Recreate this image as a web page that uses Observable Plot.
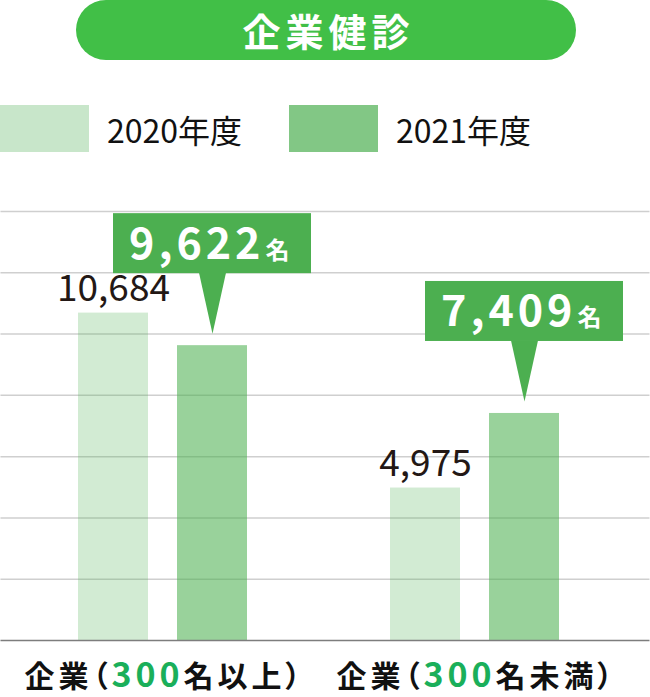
<!DOCTYPE html>
<html>
<head>
<meta charset="utf-8">
<script src="https://cdn.jsdelivr.net/npm/d3@7"></script>
<script src="https://cdn.jsdelivr.net/npm/@observablehq/plot@0.6"></script>
<style>
  body { margin: 0; background: #fff; font-family: "Noto Sans CJK JP", "Noto Sans", sans-serif; }
  #wrap { position: relative; width: 650px; height: 697px; overflow: hidden; }
  #title { position: absolute; left: 76px; top: 0; width: 500px; height: 60px; border-radius: 30px;
           background: #41bf47; color: #fff; font-weight: 700; font-size: 38px; line-height: 60px;
           text-align: center; letter-spacing: 5px; text-indent: 5px; }
  .legend-item { position: absolute; top: 105px; height: 47px; display: flex; align-items: center; }
  .sw { width: 89px; height: 47px; flex: none; }
  .lt { margin-left: 18px; font-size: 32px; line-height: 1; color: #111; white-space: nowrap; }
  #chart { position: absolute; left: 0; top: 175px; }
  .cat-label { font-feature-settings: "palt" 1; }
</style>
</head>
<body>
<div id="wrap">
  <div id="title"></div>
  <div id="legend"></div>
  <div id="chart"></div>
</div>
<script>
const titleText = "企業健診";
const categories = ["企業（300名以上）", "企業（300名未満）"];
const years = ["2020年度", "2021年度"];
const values2020 = [10684, 4975];
const values2021 = [9622, 7409];
const yTicks = [0, 2000, 4000, 6000, 8000, 10000, 12000, 14000];
const unit = "名";

const green = "#4caf50";
const legendColors = ["#c8e6ca", "#82c785"];
const barColors = ["rgba(76,175,80,0.25)", "rgba(76,175,80,0.57)"];
const fmt = d3.format(",");

document.getElementById("title").textContent = titleText;

const legend = document.getElementById("legend");
const legendLeft = [0, 289];
years.forEach((y, i) => {
  const item = document.createElement("div");
  item.className = "legend-item";
  item.style.left = legendLeft[i] + "px";
  const sw = document.createElement("div");
  sw.className = "sw";
  sw.style.background = legendColors[i];
  const lt = document.createElement("span");
  lt.className = "lt";
  lt.textContent = y;
  item.appendChild(sw);
  item.appendChild(lt);
  legend.appendChild(item);
});

const rows = categories.flatMap((c, i) => [
  {category: c, year: years[0], value: values2020[i]},
  {category: c, year: years[1], value: values2021[i]}
]);
const rows2020 = rows.filter(d => d.year === years[0]);
const rows2021 = rows.filter(d => d.year === years[1]);

// grid lines live in the first facet only and are stretched to the full width with insets
const gridRows = yTicks.map(v => ({category: categories[0], value: v}));
const W = 650;
const fxOpts = {domain: categories, paddingInner: 0.4537, paddingOuter: 0.2652, align: 0.467};
const fxScale = d3.scaleBand(categories, [0, W]).paddingInner(fxOpts.paddingInner).paddingOuter(fxOpts.paddingOuter).align(fxOpts.align);
const facetLeft = fxScale(categories[0]);
const facetRight = facetLeft + fxScale.bandwidth();

const chart = Plot.plot({
  width: W,
  height: 522,
  marginTop: 36,
  marginBottom: 57,
  marginLeft: 0,
  marginRight: 0,
  style: {fontFamily: '"Noto Sans CJK JP", sans-serif', background: "transparent", overflow: "visible"},
  fx: fxOpts,
  x: {domain: years, paddingInner: 0.29, paddingOuter: 0, axis: null},
  y: {domain: [0, 14000], axis: null},
  color: {domain: years, range: barColors},
  marks: [
    Plot.ruleY(gridRows.filter(d => d.value > 0), {
      fx: "category", y: "value", stroke: "#cfcfcf", strokeWidth: 1.5,
      insetLeft: -facetLeft, insetRight: -(W - facetRight)
    }),
    Plot.barY(rows, {fx: "category", x: "year", y: "value", fill: "year"}),
    Plot.ruleY(gridRows.filter(d => d.value === 0), {
      fx: "category", y: "value", stroke: "#7d7d7d", strokeWidth: 1.5,
      insetLeft: -facetLeft, insetRight: -(W - facetRight)
    }),
    Plot.text(rows2020, {
      fx: "category", x: "year", y: "value", text: d => fmt(d.value),
      lineAnchor: "bottom", dy: -12, fontSize: 37, fill: "#231815"
    }),
    Plot.barY(rows2021, {
      fx: "category", x: "year", y1: "value", y2: "value",
      insetTop: -132, insetBottom: 72, insetLeft: -64, insetRight: -64, fill: green
    }),
    Plot.vector(rows2021, {
      fx: "category", x: "year", y: "value", length: 61, rotate: 180, shape: "spike",
      r: 13.5, anchor: "start", dy: -73, fill: green, stroke: "none"
    }),
    Plot.text(rows2021, {
      fx: "category", x: "year", y: "value", text: d => fmt(d.value),
      textAnchor: "end", lineAnchor: "bottom", dx: 52, dy: -87,
      fontSize: 43, fontWeight: 700, fill: "white"
    }),
    Plot.text(rows2021, {
      fx: "category", x: "year", y: "value", text: () => unit,
      textAnchor: "start", lineAnchor: "bottom", dx: 53, dy: -87,
      fontSize: 24, fontWeight: 700, fill: "white"
    }),
    Plot.axisFx({anchor: "bottom", tickSize: 0, tickPadding: 25, fontSize: 30, fontWeight: 700, color: "#111", label: null})
  ]
});

// colour the "300" part of the category axis labels
chart.querySelectorAll("text").forEach(t => {
  const s = t.textContent;
  if (!categories.includes(s)) return;
  const k = s.indexOf("300");
  if (k < 0) return;
  const ns = "http://www.w3.org/2000/svg";
  const parts = [[s.slice(0, k), null], ["300", "#1aaf5a"], [s.slice(k + 3), null]];
  while (t.firstChild) t.removeChild(t.firstChild);
  t.setAttribute("class", "cat-label");
  t.setAttribute("letter-spacing", "4");
  t.setAttribute("dx", "1");
  parts.forEach(([str, col]) => {
    const ts = document.createElementNS(ns, "tspan");
    ts.textContent = str;
    if (col) {
      ts.setAttribute("fill", col);
      ts.setAttribute("font-weight", "700");
      ts.setAttribute("font-size", "34");
      ts.setAttribute("letter-spacing", "4");
    }
    t.appendChild(ts);
  });
});
chart.querySelectorAll('g[font-size="43"] text').forEach(t => t.setAttribute("letter-spacing", "4"));

document.getElementById("chart").appendChild(chart);
</script>
</body>
</html>
